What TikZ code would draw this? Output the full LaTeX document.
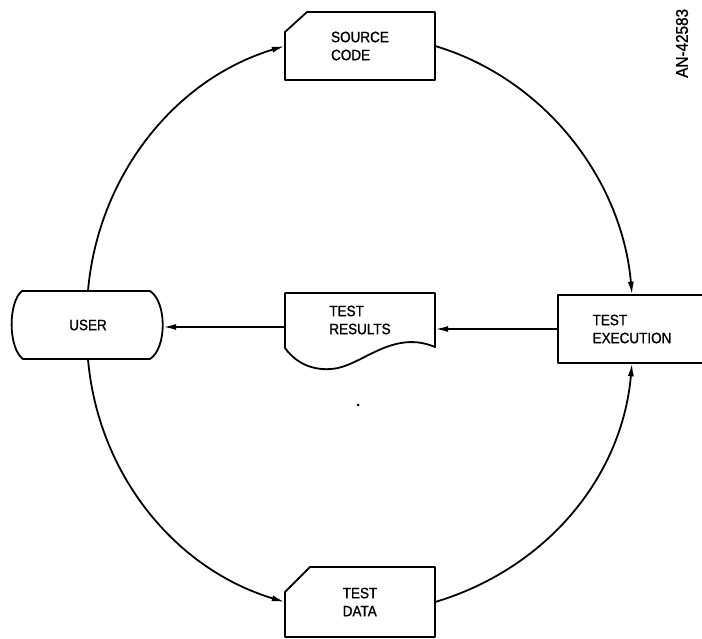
\documentclass[tikz,border=0pt]{standalone}
\usepackage{fontspec}
\setmainfont{Liberation Sans}[FakeStretch=0.9]
\newfontfamily\lblfont{Liberation Sans}[FakeStretch=0.9,FakeBold=1.2]
\usetikzlibrary{arrows.meta,calc}
\begin{document}
\begin{tikzpicture}[x=1pt,y=-1pt,
  lbl/.style={inner sep=0pt, align=left, font=\lblfont\fontsize{15}{18}\selectfont},
  frame/.style={inner sep=0pt, minimum width=150pt, minimum height=68pt},
  shapeline/.style={line width=1.8pt, line join=round},
  conn/.style={line width=1.8pt, -{Latex[length=13pt,width=6pt]}}]
\useasboundingbox (0,0) rectangle (702,639);
\clip (0,0) rectangle (702,639);

% node frames and texts
\node[frame, lbl] (src) at (360,46) {SOURCE\\CODE};
\node[frame, lbl] (user) at (88,325) {USER};
\node[frame] (results) at (360,327) {};
\node[lbl] (restext) at ($(results.center)+(0,-7)$) {TEST\\RESULTS};
\node[frame, lbl, minimum width=148pt] (exec) at (632,329) {TEST\\EXECUTION};
\node[frame, lbl, minimum height=70pt] (data) at (360,602) {TEST\\DATA};

% outlines
\draw[shapeline] (285,80) -- (285,32) -- (307,12) -- (435,12) -- (435,80) -- cycle;
\draw[shapeline] (285,637) -- (285,592) -- (310,567) -- (435,567) -- (435,637) -- cycle;
\draw[shapeline] (558,295) rectangle (712,363);
\draw[shapeline] (22,291) -- (150,291) .. controls (167,302) and (167,348) .. (150,359)
  -- (23,359) .. controls (8,348) and (8,302) .. (22,291) -- cycle;
\draw[shapeline] (285,348) -- (285,293) -- (435,293) -- (435,347)
  .. controls (395,330) and (365,362) .. (338,368)
  .. controls (318,372) and (298,366) .. (285,348);

% connectors
\draw[conn] (user.north) .. controls +(10,-115) and +(-110,33) .. (src.west);
\draw[conn] (src.east) .. controls +(110,33) and +(-10,-115) .. (exec.north);
\draw[conn] (data.east) .. controls +(110,-33) and +(-10,115) .. (exec.south);
\draw[conn] (user.south) .. controls +(10,115) and +(-110,-33) .. (data.west);
\draw[conn] (exec.west) -- (exec.west -| results.east);
\draw[conn] (results.west) -- (results.west -| user.east);

% speck and reference number
\fill (358,405) circle (1.5pt);
\node[rotate=90, anchor=west, inner sep=0pt, font=\lblfont\fontsize{17}{17}\selectfont] (an) at (682,78) {AN-42583};
\end{tikzpicture}
\end{document}
